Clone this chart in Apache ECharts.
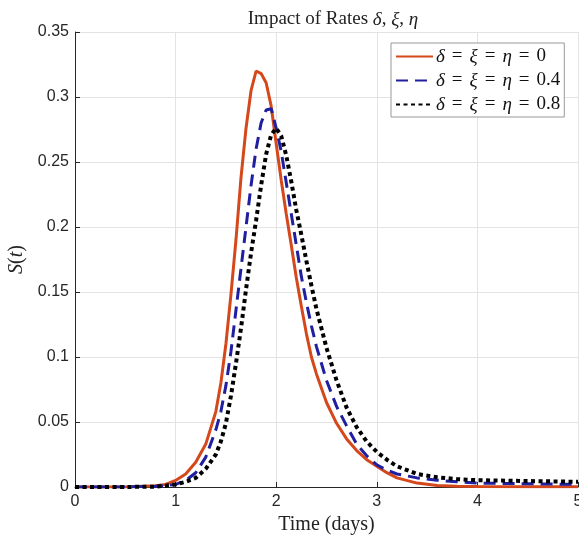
<!DOCTYPE html>
<html><head><meta charset="utf-8">
<script src="https://cdn.jsdelivr.net/npm/echarts@6/dist/echarts.min.js"></script>
<style>html,body{margin:0;padding:0;background:#fff;overflow:hidden}#c{width:579px;height:539px}</style>
</head><body><div id="c"></div>
<script>
var tValues = [0, 0.5, 0.8, 0.9, 1.0, 1.1, 1.2, 1.3, 1.4, 1.45, 1.5, 1.55, 1.6, 1.65, 1.7, 1.75, 1.8, 1.85, 1.9, 1.95, 2.0, 2.05, 2.1, 2.15, 2.2, 2.25, 2.3, 2.35, 2.4, 2.5, 2.6, 2.7, 2.8, 2.9, 3.0, 3.1, 3.2, 3.4, 3.6, 3.8, 4.0, 4.5, 5.0];
var sRate0 = [0, 0, 0.001, 0.002, 0.005, 0.01, 0.019, 0.033, 0.058, 0.08, 0.11, 0.148, 0.19, 0.238, 0.276, 0.305, 0.32, 0.318, 0.311, 0.293, 0.264, 0.236, 0.21, 0.186, 0.161, 0.139, 0.118, 0.1, 0.087, 0.065, 0.049, 0.037, 0.028, 0.021, 0.016, 0.011, 0.007, 0.003, 0.0012, 0.0006, 0.0004, 0.0002, 0.0001];
var sRate04 = [0, 0, 0.0005, 0.001, 0.002, 0.005, 0.011, 0.023, 0.044, 0.058, 0.078, 0.104, 0.136, 0.168, 0.2, 0.232, 0.26, 0.28, 0.29, 0.291, 0.276, 0.258, 0.234, 0.21, 0.186, 0.162, 0.142, 0.124, 0.108, 0.082, 0.062, 0.047, 0.033, 0.024, 0.017, 0.013, 0.01, 0.007, 0.0052, 0.004, 0.003, 0.0025, 0.002];
var sRate08 = [0, 0, 0.0003, 0.001, 0.002, 0.004, 0.007, 0.014, 0.025, 0.035, 0.049, 0.07, 0.095, 0.122, 0.152, 0.18, 0.205, 0.232, 0.256, 0.271, 0.276, 0.27, 0.255, 0.235, 0.213, 0.194, 0.174, 0.155, 0.137, 0.107, 0.082, 0.061, 0.046, 0.035, 0.027, 0.021, 0.016, 0.01, 0.0075, 0.006, 0.0052, 0.0046, 0.004];
var seriesNames = ['δ = ξ = η = 0', 'δ = ξ = η = 0.4', 'δ = ξ = η = 0.8'];
var xTicks = [0, 1, 2, 3, 4, 5];
var yTicks = [0, 0.05, 0.1, 0.15, 0.2, 0.25, 0.3, 0.35];

function pairs(arr){ return tValues.map(function(t,i){ return [t, arr[i]]; }); }
var serif = '"Liberation Serif","DejaVu Serif",serif';
var sans = '"Liberation Sans",Arial,sans-serif';
var chart = echarts.init(document.getElementById('c'), null, {renderer:'canvas'});
chart.setOption({
  animation:false,
  backgroundColor:'#fff',
  title:{
    text:'Impact of Rates {i|δ}, {i|ξ}, {i|η}',
    left:328, top:5, textAlign:'center',
    textStyle:{fontFamily:serif, fontSize:19, fontWeight:'normal', color:'#222',
      rich:{i:{fontFamily:serif, fontStyle:'italic', fontSize:19, color:'#222'}}}
  },
  grid:{left:75, right:1, top:32, bottom:52, containLabel:false, outerBoundsMode:'none'},
  legend:{
    orient:'vertical', left:391, top:43, width:170,
    backgroundColor:'#fff', borderColor:'#999', borderWidth:1,
    padding:[4,4,3,4], itemGap:5, itemWidth:37, itemHeight:18,
    data:seriesNames,
    itemStyle:{color:'rgba(0,0,0,0)', borderColor:'rgba(0,0,0,0)', borderWidth:0, opacity:0},
    formatter:function(n){
      var v = n.split('= ').pop();
      return '{i|δ}{e|=}{i|ξ}{e|=}{i|η}{e|=}' + v;
    },
    textStyle:{fontFamily:serif, fontSize:19, color:'#111', padding:[0,0,0,-2],
      rich:{i:{fontFamily:serif, fontStyle:'italic', fontSize:19, color:'#111'},
            e:{fontFamily:serif, fontSize:19, color:'#111', padding:[0,7,0,7]}}}
  },
  xAxis:{
    type:'value', min:0, max:5, interval:1,
    name:'Time (days)', nameLocation:'middle', nameGap:28,
    nameTextStyle:{fontFamily:serif, fontSize:20, color:'#222'},
    axisLine:{show:true, onZero:false, lineStyle:{color:'#262626', width:1}},
    axisTick:{show:true, inside:true, length:5, lineStyle:{color:'#262626'}},
    axisLabel:{fontFamily:sans, fontSize:16, color:'#262626', margin:7},
    splitLine:{show:true, lineStyle:{color:'#e3e3e3', width:1}}
  },
  yAxis:{
    type:'value', min:0, max:0.35, interval:0.05,
    name:'{i|S}({i|t})', nameLocation:'middle', nameGap:44, nameRotate:90,
    nameTextStyle:{fontFamily:serif, fontSize:20, color:'#222',
      rich:{i:{fontFamily:serif, fontStyle:'italic', fontSize:20, color:'#222'}}},
    axisLine:{show:true, onZero:false, lineStyle:{color:'#262626', width:1}},
    axisTick:{show:true, inside:true, length:5, lineStyle:{color:'#262626'}},
    axisLabel:{fontFamily:sans, fontSize:16, color:'#262626', margin:6,
      formatter:function(v){ return String(Math.round(v*100)/100); }},
    splitLine:{show:true, lineStyle:{color:'#e3e3e3', width:1}}
  },
  series:[
    {name:seriesNames[0], type:'line', symbol:'none', data:pairs(sRate0), z:3,
     lineStyle:{color:'#D4481C', width:3, type:'solid'}, itemStyle:{color:'#D4481C'}},
    {name:seriesNames[1], type:'line', symbol:'none', data:pairs(sRate04), z:4,
     lineStyle:{color:'#1F1FA0', width:3, type:[12,7], cap:'butt'}, itemStyle:{color:'#1F1FA0'}},
    {name:seriesNames[2], type:'line', symbol:'none', data:pairs(sRate08), z:5,
     lineStyle:{color:'#000000', width:4, type:[4,3.5], cap:'butt'}, itemStyle:{color:'#000'}}
  ]
});
</script></body></html>
